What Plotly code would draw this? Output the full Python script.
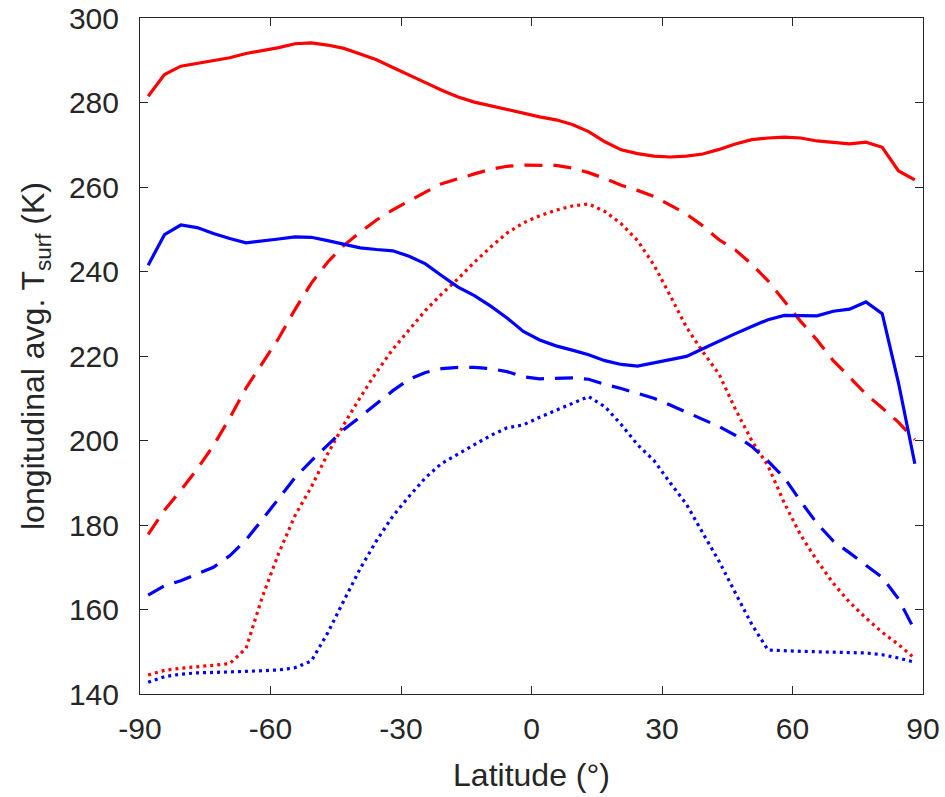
import plotly.graph_objects as go

lat = [-88.125, -84.375, -80.625, -76.875, -73.125, -69.375, -65.625, -61.875,
       -58.125, -54.375, -50.625, -46.875, -43.125, -39.375, -35.625, -31.875,
       -28.125, -24.375, -20.625, -16.875, -13.125, -9.375, -5.625, -1.875,
       1.875, 5.625, 9.375, 13.125, 16.875, 20.625, 24.375, 28.125,
       31.875, 35.625, 39.375, 43.125, 46.875, 50.625, 54.375, 58.125,
       61.875, 65.625, 69.375, 73.125, 76.875, 80.625, 84.375, 88.125]

red_solid = [281.5, 286.6, 288.6, 289.3, 289.9, 290.6, 291.6, 292.3,
             293.0, 293.9, 294.1, 293.6, 292.8, 291.5, 290.1, 288.3,
             286.4, 284.7, 282.9, 281.3, 280.1, 279.2, 278.4, 277.5,
             276.6, 275.9, 274.8, 273.1, 270.7, 268.8, 267.9, 267.3,
             267.1, 267.3, 267.8, 268.9, 270.2, 271.2, 271.6, 271.8,
             271.6, 270.9, 270.5, 270.2, 270.6, 269.4, 263.8, 261.7]

red_dashed = [177.8, 183.5, 188.2, 193.2, 198.8, 205.3, 212.4, 218.2,
              224.2, 231.0, 237.2, 242.2, 246.2, 249.3, 252.2, 254.6,
              256.8, 258.8, 260.8, 262.0, 263.1, 264.2, 264.9, 265.2,
              265.2, 265.1, 264.5, 263.4, 262.0, 260.4, 259.2, 257.8,
              255.7, 253.6, 250.8, 247.5, 245.1, 241.7, 237.8, 232.9,
              228.2, 223.8, 218.9, 215.0, 211.0, 207.7, 204.3, 200.2]

red_dotted = [144.5, 145.6, 146.1, 146.4, 146.8, 147.2, 150.8, 163.0,
              173.3, 182.2, 189.0, 196.8, 203.8, 210.2, 216.2, 221.6,
              226.2, 230.8, 234.7, 238.3, 242.2, 245.8, 249.1, 251.5,
              253.2, 254.5, 255.5, 256.0, 254.2, 251.3, 247.3, 241.6,
              234.3, 226.8, 221.0, 215.7, 207.4, 200.0, 194.0, 185.2,
              177.6, 171.6, 166.2, 161.7, 158.0, 154.6, 151.7, 148.4]

blue_solid = [241.5, 248.7, 251.0, 250.4, 249.0, 247.8, 246.8, 247.2,
              247.7, 248.2, 248.1, 247.3, 246.4, 245.6, 245.2, 244.9,
              243.6, 241.8, 239.0, 236.3, 234.3, 231.8, 229.0, 225.8,
              223.8, 222.4, 221.4, 220.3, 218.9, 218.0, 217.6, 218.4,
              219.2, 219.9, 221.7, 223.6, 225.3, 227.0, 228.6, 229.6,
              229.6, 229.5, 230.6, 231.1, 232.8, 230.0, 213.6, 194.5]

blue_dashed = [163.4, 165.6, 166.8, 168.3, 170.0, 172.7, 176.5, 181.3,
               186.2, 191.2, 195.2, 198.9, 202.6, 205.6, 208.6, 211.8,
               214.5, 216.1, 217.0, 217.3, 217.3, 217.0, 216.3, 215.1,
               214.6, 214.7, 214.8, 214.5, 213.3, 212.3, 211.2, 210.0,
               208.4, 206.6, 205.0, 203.3, 201.2, 198.6, 195.1, 191.2,
               185.6, 180.4, 176.2, 173.4, 170.5, 167.6, 162.5, 155.0]

blue_dotted = [142.8, 144.1, 144.7, 145.0, 145.1, 145.2, 145.3, 145.5,
               145.7, 146.2, 147.8, 154.4, 162.1, 169.7, 176.3, 182.1,
               186.8, 191.2, 194.6, 196.8, 198.8, 201.2, 203.0, 203.7,
               205.5, 207.1, 208.9, 210.4, 208.0, 203.8, 199.0, 195.3,
               190.0, 184.9, 178.1, 171.4, 163.9, 156.5, 150.4, 150.2,
               150.1, 150.0, 149.9, 149.8, 149.7, 149.3, 148.5, 147.5]

x_ticks = [-90, -60, -30, 0, 30, 60, 90]
y_ticks = [140, 160, 180, 200, 220, 240, 260, 280, 300]

RED = "#FF0000"
BLUE = "#0000FF"
DASH = "18px,11px"
DOT = "3px,4px"

series = [
    (red_solid, RED, "solid"),
    (red_dashed, RED, DASH),
    (red_dotted, RED, DOT),
    (blue_solid, BLUE, "solid"),
    (blue_dashed, BLUE, DASH),
    (blue_dotted, BLUE, DOT),
]

fig = go.Figure()
for ys, col, dash in series:
    fig.add_trace(go.Scatter(x=lat, y=ys, mode="lines",
                             line=dict(color=col, width=3.2, dash=dash),
                             showlegend=False, hoverinfo="skip"))

FONT = "Liberation Sans, Arial, Helvetica, sans-serif"
axis_col = "#262626"
common = dict(showgrid=False, zeroline=False, showline=True, linecolor=axis_col,
              linewidth=1, mirror="ticks", ticks="inside", ticklen=8,
              tickcolor=axis_col, tickwidth=1, automargin=False,
              ticklabeloverflow="allow",
              tickfont=dict(family=FONT, size=30, color=axis_col))

fig.update_xaxes(range=[-90, 90], tickvals=x_ticks, ticktext=[str(v) for v in x_ticks],
                 ticklabelstandoff=8,
                 title=dict(text="Latitude (°)", font=dict(family=FONT, size=32, color=axis_col),
                            standoff=19),
                 **common)
fig.update_yaxes(range=[140, 300], tickvals=y_ticks, ticktext=[str(v) for v in y_ticks],
                 ticklabelstandoff=14,
                 title=dict(text="longitudinal avg. T<sub>surf</sub> (K)",
                            font=dict(family=FONT, size=32, color=axis_col),
                            standoff=14),
                 **common)

fig.update_layout(template="none", width=945, height=797,
                  plot_bgcolor="white", paper_bgcolor="white",
                  margin=dict(l=140, r=22, t=18, b=103))

fig.write_html("out.html", config={"displayModeBar": False, "staticPlot": True},
               post_script="document.body.style.margin='0';document.body.style.overflow='hidden';")
